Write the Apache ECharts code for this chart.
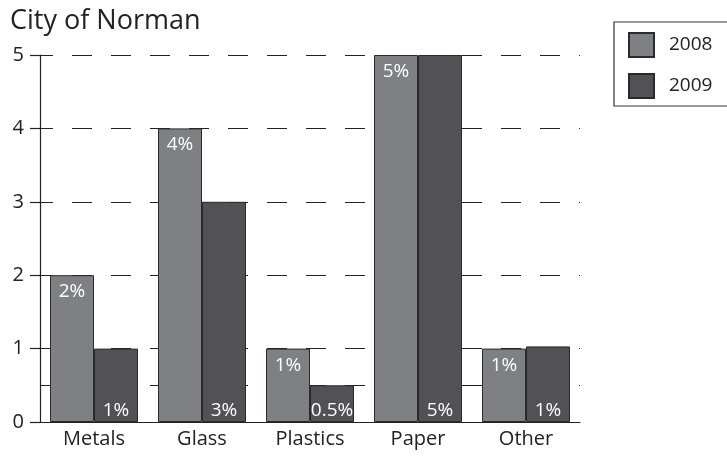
<!DOCTYPE html>
<html>
<head>
<meta charset="utf-8">
<script src="https://cdn.jsdelivr.net/npm/echarts@6/dist/echarts.min.js"></script>
<style>html,body{margin:0;padding:0;background:#fff}#c{width:727px;height:459px}</style>
</head>
<body>
<div id="c"></div>
<script>
const categories = ['Metals', 'Glass', 'Plastics', 'Paper', 'Other'];
const values2008 = [2, 4, 1, 5, 1];
const values2009 = [1, 3, 0.5, 5, 1.03];
const labels2008 = ['2%', '4%', '1%', '5%', '1%'];
const labels2009 = ['1%', '3%', '0.5%', '5%', '1%'];
const yTicks = [0, 1, 2, 3, 4, 5];
const halfLine = 0.5;

const FONT = '"Open Sans", "DejaVu Sans", sans-serif';
const chart = echarts.init(document.getElementById('c'));
const dash = { color: '#222', width: 1.2, type: [20, 19], dashOffset: 7 };

chart.setOption({
  animation: false,
  title: {
    text: 'City of Norman', left: 5, top: 3,
    textStyle: { fontFamily: FONT, fontSize: 27, fontWeight: 'normal', color: '#222' }
  },
  legend: {
    orient: 'vertical', left: 614, top: 22,
    padding: [10, 40, 7, 14], itemGap: 15,
    itemWidth: 25, itemHeight: 24, icon: 'rect',
    borderColor: '#333', borderWidth: 1.2,
    textStyle: { fontFamily: FONT, fontSize: 19, color: '#222', padding: [0, 0, 0, 10] },
    data: ['2008', '2009']
  },
  grid: { left: 40, width: 540, top: 55, bottom: 37 },
  xAxis: {
    type: 'category', data: categories,
    axisLine: { lineStyle: { color: '#222', width: 1.2 } },
    axisTick: { show: false },
    axisLabel: { fontFamily: FONT, fontSize: 20, color: '#222', margin: 7 }
  },
  yAxis: {
    type: 'value', min: yTicks[0], max: yTicks[yTicks.length - 1], interval: 1,
    axisLine: { show: true, lineStyle: { color: '#222', width: 1.2 } },
    axisTick: { show: true, length: 10, lineStyle: { color: '#222', width: 1.2 } },
    axisLabel: { fontFamily: FONT, fontSize: 20, color: '#222', margin: 16 },
    splitLine: { show: true, lineStyle: dash }
  },
  series: [
    {
      name: '2008', type: 'bar', data: values2008, barWidth: 44, barGap: '0%', z: 3,
      itemStyle: { color: '#7f8084', borderColor: '#2a2a2a', borderWidth: 1 },
      label: {
        show: true, position: 'insideTop', distance: 7,
        fontFamily: FONT, fontSize: 19, color: '#fff',
        formatter: p => labels2008[p.dataIndex]
      }
    },
    {
      name: '2009', type: 'bar', data: values2009, barWidth: 44, z: 3,
      itemStyle: { color: '#525256', borderColor: '#2a2a2a', borderWidth: 1 },
      label: {
        show: true, position: 'insideBottom', distance: 2,
        fontFamily: FONT, fontSize: 19, color: '#fff',
        formatter: p => labels2009[p.dataIndex]
      }
    },
    {
      name: 'half', type: 'line', data: [], z: 1, silent: true,
      markLine: {
        silent: true, symbol: 'none', label: { show: false }, z: 1,
        lineStyle: dash,
        data: [{ yAxis: halfLine }]
      }
    }
  ]
});
</script>
</body>
</html>
